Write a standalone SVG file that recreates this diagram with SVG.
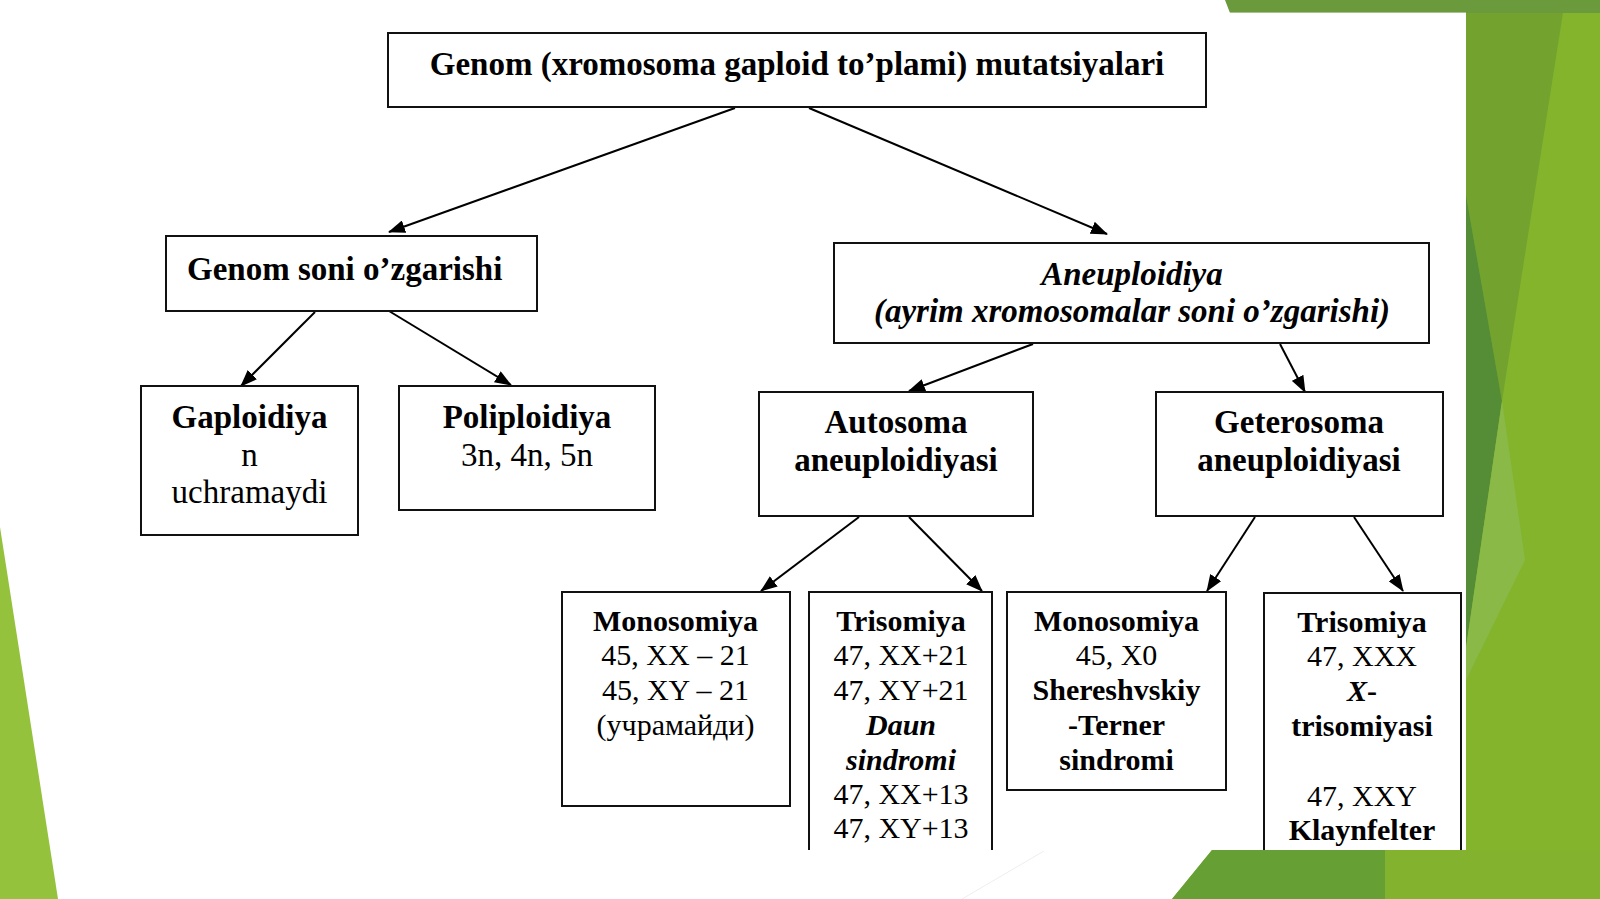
<svg xmlns="http://www.w3.org/2000/svg" width="1600" height="899" viewBox="0 0 1600 899">
<defs>
<style>
.box{fill:#ffffff;stroke:#111111;stroke-width:2}
.con{stroke:#000000;stroke-width:2;fill:none;marker-end:url(#ah)}
text{font-family:"Liberation Serif","Times New Roman",serif;fill:#000000;text-anchor:middle}
.L{font-size:33px}
.S{font-size:30px}
.b{font-weight:bold}
.i{font-style:italic}
</style>
<marker id="ah" markerWidth="17" markerHeight="13" refX="16" refY="6.5" orient="auto" markerUnits="userSpaceOnUse">
<path d="M0,0 L17,6.5 L0,13 z" fill="#000000"/>
</marker>
<clipPath id="card"><rect x="0" y="12.6" width="1466" height="837.4"/></clipPath>
</defs>

<g id="background">
<rect x="0" y="0" width="1600" height="899" fill="#ffffff"/>
<polygon points="0,527 58,899 0,899" fill="#95c23c"/>
<rect x="1466" y="0" width="134" height="899" fill="#84b42c"/>
<polygon points="1466,0 1565,0 1502,401 1466,195" fill="#73a22f"/>
<polygon points="1466,195 1502,401 1466,648" fill="#548d35"/>
<polygon points="1466,648 1502,401 1525,560 1466,680" fill="#8ab948"/>
<polygon points="1225,0 1600,0 1600,13 1230,13" fill="#6a9a3c"/>
<polygon points="1212,850 1600,850 1600,899 1172,899" fill="#82b22e"/>
<polygon points="1212,850 1385,850 1385,899 1172,899" fill="#66a034"/>
<rect x="60" y="12.6" width="1406" height="837.4" fill="#ffffff"/>
<line x1="1044" y1="851" x2="962" y2="899" stroke="#eeeeee" stroke-width="1"/>
</g>

<g id="connectors">
<line class="con" x1="735" y1="108" x2="389" y2="232"/>
<line class="con" x1="809" y1="108" x2="1107" y2="234"/>
<line class="con" x1="315" y1="312" x2="241" y2="386"/>
<line class="con" x1="389" y1="311" x2="511" y2="385"/>
<line class="con" x1="1033" y1="344" x2="909" y2="391"/>
<line class="con" x1="1280" y1="344" x2="1305" y2="392"/>
<line class="con" x1="859" y1="517" x2="761" y2="591"/>
<line class="con" x1="909" y1="517" x2="982" y2="591"/>
<line class="con" x1="1255" y1="517" x2="1207" y2="591"/>
<line class="con" x1="1354" y1="517" x2="1403" y2="591"/>
</g>

<g id="node-genom">
<rect class="box" x="388" y="33" width="818" height="74"/>
<text class="L b" x="797" y="75">Genom (xromosoma gaploid to’plami) mutatsiyalari</text>
</g>

<g id="node-genom-soni">
<rect class="box" x="166" y="236" width="371" height="75"/>
<text class="L b" x="187" y="280" style="text-anchor:start">Genom soni o’zgarishi</text>
</g>

<g id="node-aneuploidiya">
<rect class="box" x="834" y="243" width="595" height="100"/>
<text class="L b i" x="1132" y="285">Aneuploidiya</text>
<text class="L b i" x="1132" y="322">(ayrim xromosomalar soni o’zgarishi)</text>
</g>

<g id="node-gaploidiya">
<rect class="box" x="141" y="386" width="217" height="149"/>
<text class="L b" x="249.5" y="428">Gaploidiya</text>
<text class="L" x="249.5" y="466">n</text>
<text class="L" x="249.5" y="503">uchramaydi</text>
</g>

<g id="node-poliploidiya">
<rect class="box" x="399" y="386" width="256" height="124"/>
<text class="L b" x="527" y="428">Poliploidiya</text>
<text class="L" x="527" y="466">3n, 4n, 5n</text>
</g>

<g id="node-autosoma">
<rect class="box" x="759" y="392" width="274" height="124"/>
<text class="L b" x="896" y="433">Autosoma</text>
<text class="L b" x="896" y="471">aneuploidiyasi</text>
</g>

<g id="node-geterosoma">
<rect class="box" x="1156" y="392" width="287" height="124"/>
<text class="L b" x="1299" y="433">Geterosoma</text>
<text class="L b" x="1299" y="471">aneuploidiyasi</text>
</g>

<g id="node-mono-auto">
<rect class="box" x="562" y="592" width="228" height="214"/>
<text class="S b" x="675.5" y="631">Monosomiya</text>
<text class="S" x="675.5" y="665">45, XX – 21</text>
<text class="S" x="675.5" y="700">45, XY – 21</text>
<text class="S" x="675.5" y="735">(учрамайди)</text>
</g>

<g id="node-tris-auto" clip-path="url(#card)">
<rect class="box" x="809" y="592" width="183" height="290"/>
<text class="S b" x="901" y="631">Trisomiya</text>
<text class="S" x="901" y="665">47, XX+21</text>
<text class="S" x="901" y="700">47, XY+21</text>
<text class="S b i" x="901" y="735">Daun</text>
<text class="S b i" x="901" y="770">sindromi</text>
<text class="S" x="901" y="804">47, XX+13</text>
<text class="S" x="901" y="838">47, XY+13</text>
</g>

<g id="node-mono-ger">
<rect class="box" x="1007" y="592" width="219" height="198"/>
<text class="S b" x="1116.5" y="631">Monosomiya</text>
<text class="S" x="1116.5" y="665">45, X0</text>
<text class="S b" x="1116.5" y="700">Shereshvskiy</text>
<text class="S b" x="1116.5" y="735">-Terner</text>
<text class="S b" x="1116.5" y="770">sindromi</text>
</g>

<g id="node-tris-ger" clip-path="url(#card)">
<rect class="box" x="1264" y="593" width="197" height="290"/>
<text class="S b" x="1362" y="632">Trisomiya</text>
<text class="S" x="1362" y="666">47, XXX</text>
<text class="S b" x="1362" y="701"><tspan font-style="italic">X</tspan>-</text>
<text class="S b" x="1362" y="736">trisomiyasi</text>
<text class="S" x="1362" y="806">47, XXY</text>
<text class="S b" x="1362" y="840">Klaynfelter</text>
</g>
</svg>
